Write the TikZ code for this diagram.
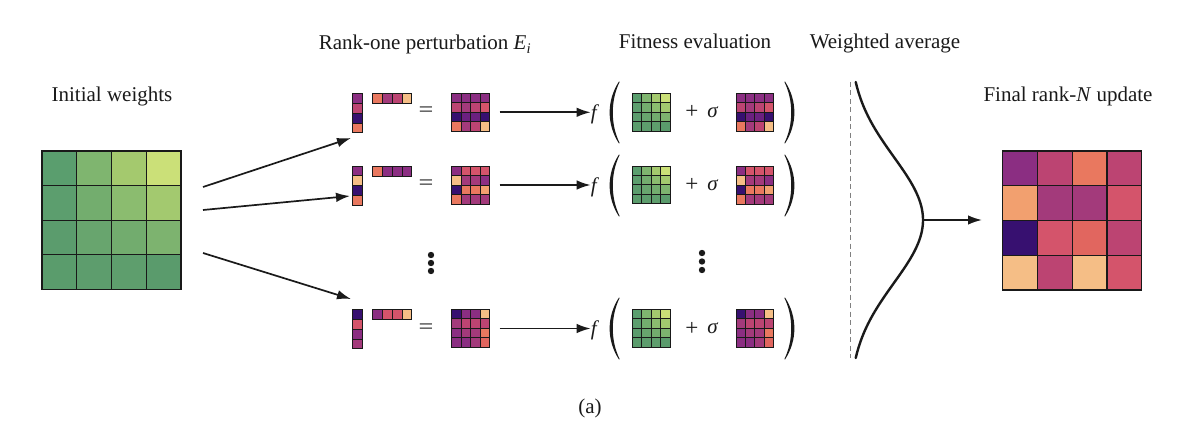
\documentclass[tikz,border=0pt]{standalone}
\usepackage{fontspec}
\setmainfont{Liberation Serif}
\usetikzlibrary{arrows.meta}
% green (initial weights)
\definecolor{g11}{HTML}{5A9E6E}\definecolor{g12}{HTML}{7FB56F}\definecolor{g13}{HTML}{A4C96E}\definecolor{g14}{HTML}{CBE078}
\definecolor{g21}{HTML}{5C9E6E}\definecolor{g22}{HTML}{73AD6E}\definecolor{g23}{HTML}{8BBC6F}\definecolor{g24}{HTML}{A3C96F}
\definecolor{g31}{HTML}{5B9C6D}\definecolor{g32}{HTML}{68A56E}\definecolor{g33}{HTML}{72AC6E}\definecolor{g34}{HTML}{7DB36F}
\definecolor{g41}{HTML}{5A9C6C}\definecolor{g42}{HTML}{5D9D6D}\definecolor{g43}{HTML}{5E9E6D}\definecolor{g44}{HTML}{5A9B6C}
% magma-like palette
\definecolor{ind}{HTML}{371070}
\definecolor{dpu}{HTML}{6B2080}
\definecolor{pur}{HTML}{8B2E82}
\definecolor{mag}{HTML}{A33A7B}
\definecolor{pnk}{HTML}{BC4472}
\definecolor{red}{HTML}{D4546B}
\definecolor{rdo}{HTML}{E1665F}
\definecolor{ora}{HTML}{E9785F}
\definecolor{lor}{HTML}{F2A06F}
\definecolor{pea}{HTML}{F5BE86}
\definecolor{txt}{HTML}{1A1A1A}
\newcommand{\cellgrid}[7][]{%
  \edef\mylist{#7}%
  \foreach \cc [count=\k from 0] in \mylist {%
    \pgfmathtruncatemacro{\mrow}{div(\k,#6)}%
    \pgfmathtruncatemacro{\mcol}{mod(\k,#6)}%
    \filldraw[fill=\cc, draw=black!90, #1] ({#2+\mcol*#4},{#3+\mrow*#5}) rectangle ++(#4,#5);
  }}
\newcommand{\greenlist}{g11,g12,g13,g14,g21,g22,g23,g24,g31,g32,g33,g34,g41,g42,g43,g44}
\newcommand{\parens}[1]{%
  \fill[txt] (619,#1-31) .. controls (606.5,#1-12) and (606.5,#1+12) .. (619,#1+31)
     -- (619.6,#1+30.5) .. controls (610.5,#1+12) and (610.5,#1-12) .. (619.6,#1-30.5) -- cycle;
  \fill[txt] (785,#1-31) .. controls (797.5,#1-12) and (797.5,#1+12) .. (785,#1+31)
     -- (784.4,#1+30.5) .. controls (793.5,#1+12) and (793.5,#1-12) .. (784.4,#1-30.5) -- cycle;}
\begin{document}
\begin{tikzpicture}[x=1pt,y=-1pt,
  font=\fontsize{21}{25}\selectfont,
  every node/.style={text=txt},
  arr/.style={draw=txt, line width=1.7pt, -{Latex[length=14pt,width=9.5pt]}},
  box/.style={inner sep=0pt, outer sep=0pt, draw=none},
  lbl/.style={inner sep=0pt, anchor=base},
  sym/.style={inner sep=0pt, anchor=center},
  dot/.style={circle, fill=txt, inner sep=0pt, minimum size=6.4pt}]
\useasboundingbox (0,0) rectangle (1199,433);
\fill[white] (0,0) rectangle (1199,433);

% titles
\node[lbl] (tInit) at (112,102) {Initial weights};
\node[lbl] (tRank) at (425,50) {Rank-one perturbation \textit{E}\textsubscript{\textit{i}}};
\node[lbl] (tFit) at (695,49) {Fitness evaluation};
\node[lbl] (tAvg) at (885,49) {Weighted average};
\node[lbl] (tFin) at (1068,102) {Final rank-\textit{N} update};
\node[lbl] (tA) at (590,413) {(a)};

% initial weights
\cellgrid[line width=1.2pt]{42}{151}{34.75}{34.6}{4}{\greenlist}
\node[box, minimum width=139pt, minimum height=138pt] (W) at (111.5,220) {};

% rows of rank-one perturbations
% row 1
\cellgrid[line width=0.9pt]{352.7}{93.3}{9.9}{9.9}{1}{pur,pnk,ind,ora}
\cellgrid[line width=0.9pt]{372.3}{93.3}{9.9}{10.2}{4}{ora,mag,pnk,pea}
\node[sym, xscale=1.25] (eq1) at (426,112) {=};
\cellgrid[line width=0.9pt]{451.7}{93.3}{9.45}{9.5}{4}{pur,pur,pur,pur,pnk,mag,pnk,red,ind,dpu,dpu,ind,ora,mag,pnk,pea}
\node[box, minimum width=37.8pt, minimum height=38pt] (E1) at (470.6,112.3) {};
% row 2
\cellgrid[line width=0.9pt]{352.7}{166}{9.9}{9.9}{1}{pur,pea,ind,ora}
\cellgrid[line width=0.9pt]{372.3}{166}{9.9}{10.2}{4}{ora,pur,pur,pur}
\node[sym, xscale=1.25] (eq2) at (426,185) {=};
\cellgrid[line width=0.9pt]{451.7}{166}{9.45}{9.5}{4}{pur,red,red,red,pea,mag,mag,pur,ind,ora,ora,lor,ora,mag,mag,mag}
\node[box, minimum width=37.8pt, minimum height=38pt] (E2) at (470.6,185) {};
% row 3
\cellgrid[line width=0.9pt]{352.7}{309.3}{9.9}{9.9}{1}{ind,red,pur,mag}
\cellgrid[line width=0.9pt]{372.3}{309.3}{9.9}{10.2}{4}{pur,red,red,pea}
\node[sym, xscale=1.25] (eq3) at (426,328.5) {=};
\cellgrid[line width=0.9pt]{451.7}{309.3}{9.45}{9.5}{4}{ind,pur,pur,pea,mag,pnk,pnk,pnk,pur,mag,mag,ora,pur,pur,mag,rdo}
\node[box, minimum width=37.8pt, minimum height=38pt] (E3) at (470.6,328.5) {};

% vertical dots
\node[dot] (d1) at (431,255) {};
\node[dot] (d2) at (431,263) {};
\node[dot] (d3) at (431,271) {};
\node[dot] (d4) at (702,253) {};
\node[dot] (d5) at (702,261.5) {};
\node[dot] (d6) at (702,270) {};

% arrows from initial weights
\coordinate (s1) at (203,187);
\coordinate (s2) at (203,210);
\coordinate (s3) at (203,253);
\coordinate (t1) at (351,138);
\coordinate (t2) at (350,196);
\coordinate (t3) at (351,299);
\draw[arr] (s1) -- (t1);
\draw[arr] (s2) -- (t2);
\draw[arr] (s3) -- (t3);

% fitness evaluation rows
\node[sym] (f1) at (595,114) {\textit{f}};
\node[sym] (f2) at (595,187) {\textit{f}};
\node[sym] (f3) at (595,330.5) {\textit{f}};
\coordinate (a1) at ([xshift=10pt]E1.east);
\coordinate (a2) at ([xshift=10pt]E2.east);
\coordinate (a3) at ([xshift=10pt]E3.east);
\draw[arr] (a1) -- (a1 -| f1.west);
\draw[arr] (a2) -- (a2 -| f2.west);
\draw[arr] (a3) -- (a3 -| f3.west);

\parens{112.5}
\parens{185.5}
\parens{328.5}
\cellgrid[line width=0.9pt]{632.3}{93.3}{9.45}{9.45}{4}{\greenlist}
\cellgrid[line width=0.9pt]{632.3}{166}{9.45}{9.45}{4}{\greenlist}
\cellgrid[line width=0.9pt]{632.3}{309.3}{9.45}{9.45}{4}{\greenlist}
\node[sym, scale=1.1] (p1) at (692,112) {+};
\node[sym, scale=1.1] (p2) at (692,185) {+};
\node[sym, scale=1.1] (p3) at (692,328.5) {+};
\node[sym] (sg1) at (713,112) {\textit{σ}};
\node[sym] (sg2) at (713,185) {\textit{σ}};
\node[sym] (sg3) at (713,328.5) {\textit{σ}};
\cellgrid[line width=0.9pt]{736}{93.3}{9.45}{9.5}{4}{pur,pur,pur,pur,pnk,mag,pnk,red,ind,dpu,dpu,ind,ora,mag,pnk,pea}
\cellgrid[line width=0.9pt]{736}{166}{9.45}{9.5}{4}{pur,red,red,red,pea,mag,mag,pur,ind,ora,ora,lor,ora,mag,mag,mag}
\cellgrid[line width=0.9pt]{736}{309.3}{9.45}{9.5}{4}{ind,pur,pur,pea,mag,pnk,pnk,pnk,pur,mag,mag,ora,pur,pur,mag,rdo}

% weighted average
\coordinate (dtop) at (850,82);
\coordinate (dbot) at (850,358);
\draw[gray, line width=0.9pt, dash pattern=on 5pt off 3.5pt] (dtop) -- (dbot);
\draw[txt, line width=2.4pt, line cap=round] plot[domain=-138:138, samples=90, smooth]
  ({849+74*exp(-0.5*((\x)/63)*((\x)/63))},{220+\x});
\coordinate (peak) at (923,220);

% final matrix
\cellgrid[line width=1.2pt]{1002.7}{151}{34.75}{34.75}{4}{pur,pnk,ora,pnk,lor,mag,mag,red,ind,red,rdo,pnk,pea,pnk,pea,red}
\node[box, minimum width=139pt, minimum height=139pt] (F) at (1072.2,220.5) {};
\coordinate (fin) at (982,220);
\draw[arr] (peak) -- (fin);
\end{tikzpicture}
\end{document}
